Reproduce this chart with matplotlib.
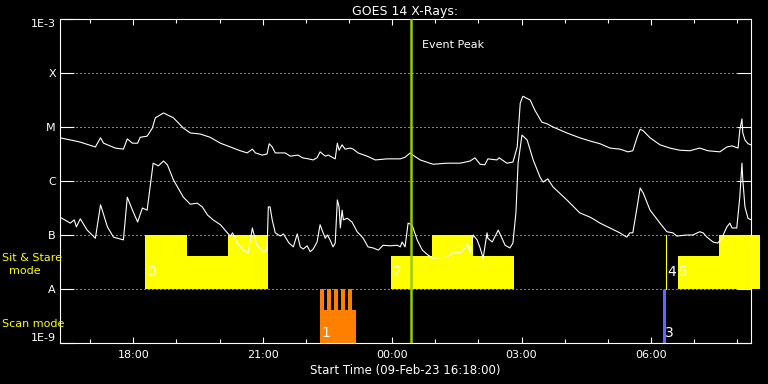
import numpy as np
import matplotlib
matplotlib.use("Agg")
import matplotlib.pyplot as plt

# --- data (time in hours since 16:18, flux as log10 W/m^2) ---
start_label = "09-Feb-23 16:18:00"
start_min = 16 * 60 + 18

t_long = [0.00, 0.24, 0.36, 0.47, 0.82, 0.94, 1.01, 1.28, 1.47, 1.56, 1.68, 1.80, 1.86, 2.02,
          2.14, 2.21, 2.40, 2.63, 2.86, 3.02, 3.25, 3.48, 3.72, 3.95, 4.18, 4.34, 4.46, 4.53,
          4.69, 4.80, 4.85, 4.92, 4.99, 5.22, 5.34, 5.52, 5.62, 5.76, 5.87, 5.96, 6.03, 6.15,
          6.22, 6.31, 6.38, 6.43, 6.47, 6.54, 6.61, 6.73, 6.80, 6.91, 7.12, 7.31, 7.58, 7.89,
          8.00, 8.12, 8.18, 8.35, 8.65, 8.97, 9.28, 9.51, 9.62, 9.74, 9.85, 9.92, 10.13, 10.18,
          10.36, 10.50, 10.60, 10.67, 10.73, 10.90, 11.01, 11.17, 11.29, 11.43, 11.75, 12.05,
          12.29, 12.52, 12.75, 12.98, 13.17, 13.28, 13.38, 13.45, 13.52, 13.68, 13.91, 14.14,
          14.37, 14.60, 14.83, 15.02, 15.30, 15.46, 15.58, 15.72, 15.76, 15.81, 15.83, 15.88,
          15.95, 16.02]
f_long = [-5.20, -5.24, -5.26, -5.28, -5.37, -5.20, -5.30, -5.39, -5.41, -5.22, -5.30, -5.30, -5.19, -5.17,
          -5.02, -4.83, -4.74, -4.83, -5.02, -5.11, -5.13, -5.19, -5.30, -5.37, -5.44, -5.48, -5.41, -5.48,
          -5.52, -5.50, -5.31, -5.37, -5.48, -5.48, -5.54, -5.52, -5.57, -5.59, -5.61, -5.57, -5.46, -5.54,
          -5.52, -5.56, -5.59, -5.30, -5.43, -5.33, -5.41, -5.39, -5.41, -5.48, -5.54, -5.61, -5.59, -5.59,
          -5.56, -5.48, -5.52, -5.61, -5.69, -5.67, -5.67, -5.63, -5.57, -5.69, -5.70, -5.59, -5.61, -5.57,
          -5.67, -5.65, -5.37, -4.56, -4.43, -4.50, -4.69, -4.91, -4.94, -5.00, -5.11, -5.20,
          -5.26, -5.31, -5.39, -5.41, -5.46, -5.44, -5.19, -5.04, -5.07, -5.20, -5.33, -5.39,
          -5.43, -5.44, -5.39, -5.44, -5.46, -5.37, -5.35, -5.39, -5.06, -4.85, -5.11, -5.24,
          -5.31, -5.33]

t_short = [0.00, 0.24, 0.33, 0.38, 0.47, 0.63, 0.82, 0.94, 1.10, 1.24, 1.47, 1.56, 1.68, 1.80,
           1.91, 2.02, 2.16, 2.28, 2.40, 2.49, 2.63, 2.86, 3.02, 3.18, 3.30, 3.42, 3.55, 3.72,
           3.88, 3.95, 4.00, 4.11, 4.25, 4.36, 4.46, 4.48, 4.57, 4.71, 4.80, 4.83, 4.87, 4.92,
           4.99, 5.11, 5.18, 5.31, 5.41, 5.50, 5.57, 5.64, 5.73, 5.80, 5.87, 5.96, 6.03, 6.10,
           6.15, 6.20, 6.26, 6.33, 6.38, 6.43, 6.47, 6.50, 6.54, 6.57, 6.66, 6.77, 6.89, 7.03,
           7.14, 7.26, 7.38, 7.49, 7.65, 7.82, 7.89, 7.93, 8.00, 8.07, 8.16, 8.28, 8.40, 8.53,
           8.65, 8.97, 9.11, 9.28, 9.39, 9.44, 9.51, 9.58, 9.67, 9.74, 9.81, 9.90, 9.92, 10.02,
           10.16, 10.32, 10.43, 10.50, 10.57, 10.62, 10.71, 10.83, 10.97, 11.13, 11.20, 11.31,
           11.43, 11.75, 12.05, 12.29, 12.40, 12.52, 12.75, 12.98, 13.14, 13.21, 13.28, 13.38,
           13.45, 13.52, 13.68, 13.91, 14.07, 14.21, 14.30, 14.53, 14.67, 14.83, 14.91, 15.00,
           15.14, 15.25, 15.34, 15.46, 15.53, 15.58, 15.69, 15.76, 15.81, 15.83, 15.88, 15.95,
           16.02]
f_short = [-6.67, -6.78, -6.72, -6.85, -6.70, -6.91, -7.06, -6.44, -6.85, -7.04, -7.09, -6.30, -6.54, -6.76,
           -6.50, -6.54, -5.67, -5.72, -5.63, -5.70, -5.98, -6.30, -6.43, -6.41, -6.48, -6.63, -6.72, -6.81,
           -6.96, -7.02, -6.96, -7.15, -7.28, -7.33, -6.87, -6.94, -7.19, -7.31, -7.28, -6.48, -6.48, -6.72,
           -6.96, -7.02, -6.98, -7.15, -7.22, -6.98, -7.22, -7.26, -7.20, -7.31, -7.26, -7.13, -6.81, -6.96,
           -7.06, -7.00, -7.09, -7.22, -7.15, -6.35, -6.48, -6.87, -6.54, -6.72, -6.69, -6.76, -6.94, -7.06,
           -7.22, -7.24, -7.28, -7.19, -7.20, -7.19, -7.22, -7.13, -7.22, -6.78, -6.81, -7.09, -7.28, -7.37,
           -7.43, -7.41, -7.33, -7.33, -7.24, -7.15, -7.33, -7.00, -7.09, -7.24, -7.43, -6.96, -7.06, -7.13,
           -6.91, -7.19, -7.24, -7.15, -6.59, -5.67, -5.15, -5.24, -5.61, -5.93, -6.02, -5.96,
           -6.11, -6.35, -6.59, -6.67, -6.72, -6.78, -6.87, -6.96, -7.04, -6.96, -6.96, -6.48,
           -6.13, -6.22, -6.54, -6.78, -6.94, -6.96, -7.02, -7.00, -7.00, -6.94, -6.96, -7.04,
           -7.13, -7.15, -7.06, -6.85, -6.78, -6.87, -6.87, -6.30, -5.67, -5.98, -6.48, -6.69,
           -6.72]

# sit & stare observations (band between B and A), height as fraction of the band
sas_start = [1.98, 2.95, 3.90, 7.68, 8.63, 9.58, 14.32, 15.27]
sas_end = [2.95, 3.90, 4.83, 8.63, 9.58, 10.52, 15.27, 16.22]
sas_height = [1.0, 0.61, 1.0, 0.61, 1.0, 0.61, 0.61, 1.0]
sas_line = 14.05  # zero length observation (number 4)

# scan observations (band below A)
scan_base = (6.03, 6.87, 0.61)
scan_spike_start = [6.03, 6.19, 6.36, 6.52, 6.68]
scan_spike_end = [6.12, 6.28, 6.45, 6.61, 6.77]
scan3_time = 14.0

obs_num = ["0", "1", "2", "3", "4", "5"]
obs_time = [1.98, 6.03, 7.68, 14.0, 14.05, 14.32]
obs_band = ["sas", "scan", "sas", "scan", "sas", "sas"]

event_peak = 8.14

ylevels = [-3, -4, -5, -6, -7, -8, -9]
ylabels = ["1E-3", "X", "M", "C", "B", "A", "1E-9"]
xlabels = ["18:00", "21:00", "00:00", "03:00", "06:00"]


def hours_since_start(lbl):
    h, m = map(int, lbl.split(":"))
    return ((h * 60 + m - start_min) % 1440) / 60.0


fig = plt.figure(figsize=(7.68, 3.84), dpi=100, facecolor="black")
ax = fig.add_axes([60 / 768, 41 / 384, 691 / 768, 324 / 384])
ax.set_facecolor("black")
ax.set_xlim(0, 16.02)
ax.set_ylim(-9, -3)

# dotted class lines
for lv in ylevels[1:-1]:
    ax.axhline(lv, color="white", lw=0.72, ls=(0, (1, 3)), zorder=1)

# sit & stare blocks
ax.bar(sas_start, [h for h in sas_height], width=np.subtract(sas_end, sas_start),
       bottom=-8, align="edge", color="#ffff00", linewidth=0, clip_on=False, zorder=2)
ax.plot([sas_line, sas_line], [-8, -7], color="#ffff00", lw=0.8, zorder=2)

# scan blocks
ax.bar(scan_base[0], scan_base[2], width=scan_base[1] - scan_base[0], bottom=-9,
       align="edge", color="#ff8000", linewidth=0, zorder=2)
ax.bar(scan_spike_start, 1.0, width=np.subtract(scan_spike_end, scan_spike_start), bottom=-9,
       align="edge", color="#ff8000", linewidth=0, zorder=2)
ax.plot([scan3_time, scan3_time], [-9, -8], color="#6464ff", lw=2.2, solid_capstyle="butt", zorder=2)

# GOES curves
ax.plot(t_long, f_long, color="white", lw=0.8, zorder=3)
ax.plot(t_short, f_short, color="white", lw=0.8, zorder=3)

# observation numbers
for num, tt, band in zip(obs_num, obs_time, obs_band):
    yy = -7.69 if band == "sas" else -8.81
    ax.text(tt + 0.03, yy, num, color="white", fontsize=10, ha="left", va="center", zorder=4)

# event peak
ax.axvline(event_peak, color="#99cc00", lw=1.8, zorder=5)
ax.text(event_peak + 0.25, -3.49, "Event Peak", color="white", fontsize=8, ha="left", va="center")

# axes styling
for sp in ax.spines.values():
    sp.set_color("white")
    sp.set_linewidth(0.8)

ax.set_yticks(ylevels)
ax.set_yticklabels(ylabels)
ax.tick_params(axis="y", which="major", direction="in", length=10, width=0.8, colors="white",
               left=True, right=True, labelsize=8, pad=3)
tl = ax.get_yticklabels()
tl[0].set_va("top")
tl[-1].set_va("bottom")

ax.set_xticks([hours_since_start(l) for l in xlabels])
ax.set_xticklabels(xlabels)
minor = [hours_since_start("%02d:00" % ((17 + i) % 24)) for i in range(16)]
ax.set_xticks(minor, minor=True)
ax.tick_params(axis="x", which="major", direction="in", length=4.5, width=0.8, colors="white",
               top=True, bottom=True, labelsize=8, pad=5)
ax.tick_params(axis="x", which="minor", direction="in", length=3, width=0.8, colors="white",
               top=True, bottom=True)

ax.set_title("GOES 14 X-Rays:", color="white", fontsize=9, pad=3)
ax.set_xlabel("Start Time (%s)" % start_label, color="white", fontsize=8.5, labelpad=3)

fig.text(2 / 768, 1 - 258 / 384, "Sit & Stare", color="#ffff00", fontsize=8, ha="left", va="center")
fig.text(25 / 768, 1 - 271 / 384, "mode", color="#ffff00", fontsize=8, ha="center", va="center")
fig.text(2 / 768, 1 - 324 / 384, "Scan mode", color="#ffff00", fontsize=8, ha="left", va="center")

fig.savefig("out.png", dpi=100, facecolor="black")
